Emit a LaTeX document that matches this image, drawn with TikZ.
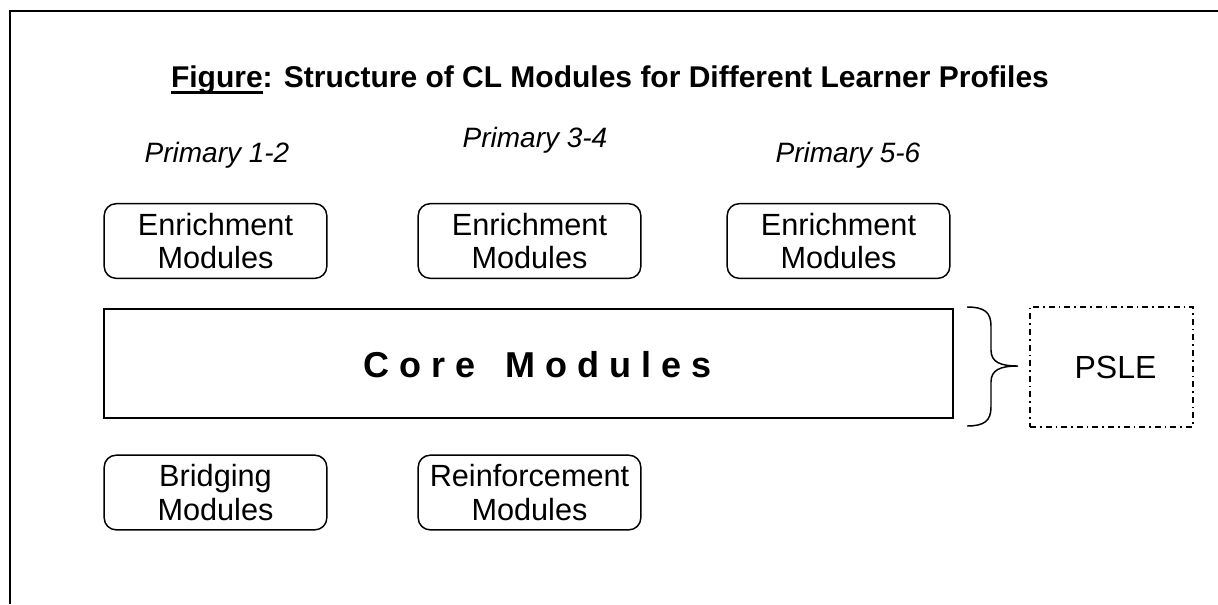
\documentclass[tikz,border=0pt]{standalone}
\usepackage{fontspec}
\setmainfont{Liberation Sans}
\newcommand\myul[1]{\setbox0\hbox{#1}\rlap{\rule[-5pt]{\wd0}{2.2pt}}\box0}
\begin{document}
\begin{tikzpicture}[x=0.75pt,y=-0.75pt,
  frame/.style={line width=1.8pt},
  titletext/.style={anchor=base, font=\fontsize{22.5}{27}\bfseries\selectfont},
  level/.style={anchor=base, font=\fontsize{21}{25}\itshape\selectfont},
  modbox/.style={draw, line width=1.1pt, rounded corners=9pt, minimum width=167pt,
    minimum height=56pt, align=center, inner sep=0pt, font=\fontsize{23}{25}\selectfont},
  corebox/.style={draw, line width=1.1pt, minimum width=636.75pt, minimum height=81.75pt, inner sep=0pt},
  coretext/.style={font=\fontsize{27}{30}\bfseries\selectfont, inner sep=0pt},
  pslebox/.style={draw, line width=1.1pt, dash pattern=on 4.5pt off 3pt on 1.2pt off 3pt,
    minimum width=122.25pt, minimum height=90pt, inner sep=0pt, font=\fontsize{24}{28}\selectfont},
  bracestyle/.style={line width=1.1pt}
]
\useasboundingbox (0,0) rectangle (1218,604);
\draw[frame] (10,604) -- (10,11) -- (1218,11);

\node[titletext] (title) at (610,87) {\myul{Figure}: Structure of CL Modules for Different Learner Profiles};

\node[level] (p12) at (217,162) {Primary 1-2};
\node[level] (p34) at (535,147) {Primary 3-4};
\node[level] (p56) at (848,162) {Primary 5-6};

\node[modbox] (e1) at (215.5,241) {Enrichment\\Modules};
\node[modbox] (e2) at (529.5,241) {Enrichment\\Modules};
\node[modbox] (e3) at (838.5,241) {Enrichment\\Modules};

\node[corebox] (core) at (528.5,363.5) {};
\node[coretext] (coret) at (538,365) {C o r e \ \ M o d u l e s};

\node[pslebox] (psle) at (1111.5,367) {\hspace*{6pt}PSLE};

\node[modbox] (br) at (215.5,492.5) {Bridging\\Modules};
\node[modbox] (re) at (529.5,492.5) {Reinforcement\\Modules};

\coordinate (btop) at (967,307);
\coordinate (btip) at (1018,366);
\coordinate (bbot) at (967,426);
\draw[bracestyle] (btop) .. controls (984,307) and (991,312) .. (991,326) -- (991,350)
  .. controls (991,362) and (1000,366) .. (btip)
  .. controls (1000,366) and (991,370) .. (991,382) -- (991,407)
  .. controls (991,421) and (984,426) .. (bbot);
\end{tikzpicture}
\end{document}
